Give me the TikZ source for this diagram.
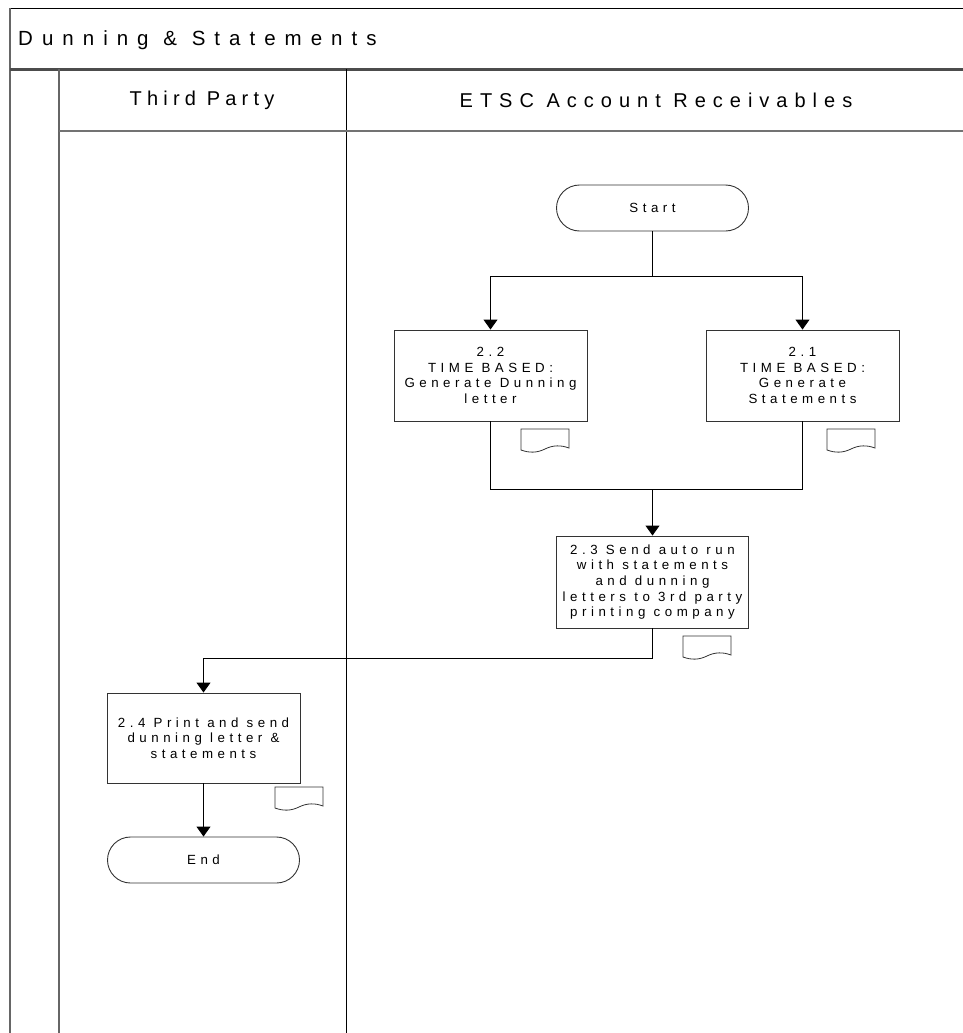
\documentclass[tikz,border=0pt]{standalone}
\usepackage{fontspec}
\setmainfont{Liberation Sans}
\newfontfamily\titlefont[LetterSpace=44]{Liberation Sans}
\newfontfamily\headfont[LetterSpace=26]{Liberation Sans}
\newfontfamily\headfontb[LetterSpace=35]{Liberation Sans}
\newfontfamily\boxfont[LetterSpace=34]{Liberation Sans}
\usetikzlibrary{arrows.meta}
\begin{document}
\begin{tikzpicture}[x=1pt,y=-1pt,
  frameline/.style={draw=black!60,line width=2pt},
  thinline/.style={draw=black,line width=0.9pt},
  procbox/.style={draw=black!80,line width=0.9pt,minimum width=193pt,minimum height=91pt,
    align=center,inner sep=0pt,font=\boxfont\fontsize{13.3}{15.7}\selectfont},
  termbox/.style={draw=black!80,line width=0.9pt,minimum width=192pt,minimum height=46pt,
    rounded corners=23pt,inner sep=0pt,font=\boxfont\fontsize{13.3}{15.7}\selectfont},
  conn/.style={draw=black,line width=0.9pt},
  arr/.style={conn,-{Triangle[width=14pt,length=10pt]}},
  docicon/.pic={\draw[black!80,line width=0.8pt] (0,0) -- (48,0) -- (48,19)
     .. controls (40,16) and (32,16) .. (24,20) .. controls (16,24) and (8,24) .. (0,21) -- cycle;}
]
\useasboundingbox (0,0) rectangle (963,1033);
% frame
\draw[thinline] (10,8.5) -- (963,8.5);
\draw[frameline] (10,8) -- (10,1033);
\draw[draw=black!70,line width=2.6pt] (10,69.5) -- (963,69.5);
\draw[frameline] (59,69) -- (59,1033);
\draw[thinline] (346,69) -- (346,1033);
\draw[draw=black!55,line width=2pt] (59,131) -- (963,131);
% titles
\node[anchor=west,inner sep=0pt,font=\titlefont\fontsize{20.5}{24}\selectfont] (title) at (18,40) {Dunning \& Statements};
\node[inner sep=0pt,font=\headfont\fontsize{20}{24}\selectfont] (lane1) at (202,100) {Third Party};
\node[inner sep=0pt,font=\headfontb\fontsize{20}{24}\selectfont] (lane2) at (656,100) {ETSC Account Receivables};
% nodes
\node[termbox] (start) at (652.5,208) {Start};
\node[procbox] (b22) at (490.5,375.5) {2.2\\TIME BASED:\\Generate Dunning\\letter};
\node[procbox] (b21) at (802.5,375.5) {2.1\\TIME BASED:\\Generate\\Statements};
\node[procbox,minimum width=192pt,minimum height=92pt] (b23) at (652.5,582) {2.3 Send auto run\\with statements\\and dunning\\letters to 3rd party\\printing company};
\node[procbox,minimum height=90pt] (b24) at (203.5,738) {2.4 Print and send\\dunning letter \&\\statements};
\node[termbox,minimum width=192pt] (end) at (203.5,860) {End};
% document icons
\pic at (521,429) {docicon};
\pic at (827,429) {docicon};
\pic at (683,636) {docicon};
\pic at (275,787) {docicon};
% connectors
\coordinate (split) at (652.5,276);
\coordinate (join) at (652.5,489);
\draw[conn] (start.south) -- (split);
\draw[arr] (split) -| (b22.north);
\draw[arr] (split) -| (b21.north);
\draw[conn] (b22.south) |- (join);
\draw[conn] (b21.south) |- (join);
\draw[arr] (join) -- (b23.north);
\draw[arr] (b23.south) -- ++(0,30) -| (b24.north);
\draw[arr] (b24.south) -- (end.north);
\end{tikzpicture}
\end{document}
